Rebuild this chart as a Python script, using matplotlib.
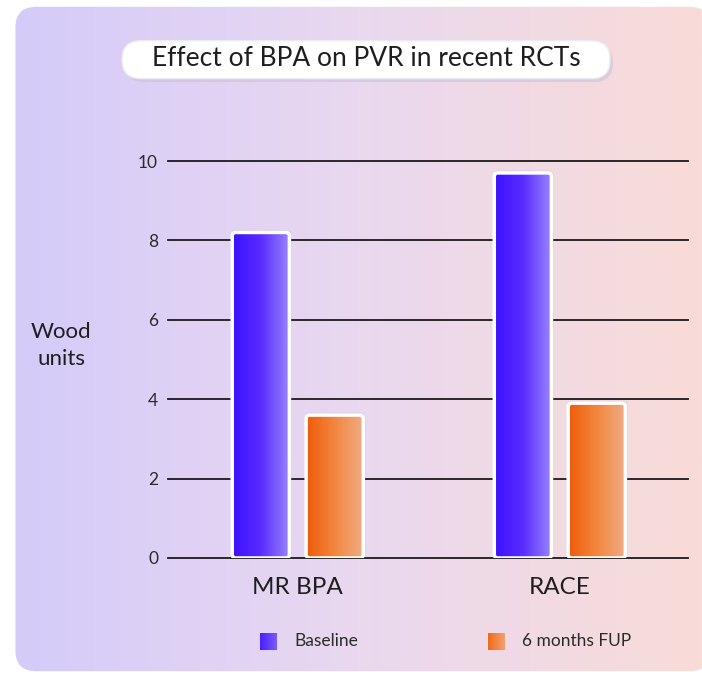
import numpy as np
import matplotlib.pyplot as plt
from matplotlib.patches import FancyBboxPatch
from matplotlib.colors import LinearSegmentedColormap

plt.rcParams['font.family'] = ['Lato', 'DejaVu Sans']

# data
groups = ['MR BPA', 'RACE']
baseline = [8.2, 9.7]
fup = [3.6, 3.9]
series_names = ['Baseline', '6 months FUP']
yticks = [0, 2, 4, 6, 8, 10]

fig = plt.figure(figsize=(7.02, 6.78), dpi=100)

# background panel with horizontal gradient
bg = fig.add_axes([0, 0, 1, 1], zorder=-10)
bg.set_xlim(0, 1)
bg.set_ylim(0, 1)
bg.axis('off')
panel_cmap = LinearSegmentedColormap.from_list('panel', ['#d4cbfa', '#e9d8ef', '#f9dcd8'])
grad = np.linspace(0, 1, 256).reshape(1, -1)
im = bg.imshow(grad, cmap=panel_cmap, extent=[0.02, 1.0, 0.005, 0.995], aspect='auto')
panel = FancyBboxPatch((0.022, 0.01), 0.99, 0.98, boxstyle='round,pad=0,rounding_size=0.03',
                       facecolor='none', edgecolor='none', transform=bg.transAxes)
bg.add_patch(panel)
im.set_clip_path(panel)

# title pill
shadow = FancyBboxPatch((0.178, 0.879), 0.695, 0.055, boxstyle='round,pad=0,rounding_size=0.027',
                        facecolor='#c9bfd6', edgecolor='none', alpha=0.55, transform=bg.transAxes)
bg.add_patch(shadow)
pill = FancyBboxPatch((0.174, 0.884), 0.695, 0.056, boxstyle='round,pad=0,rounding_size=0.027',
                      facecolor='white', edgecolor='#eeeaf2', lw=1, transform=bg.transAxes)
bg.add_patch(pill)
bg.text(0.522, 0.913, 'Effect of BPA on PVR in recent RCTs', ha='center', va='center',
        fontsize=19, color='#1e1e1e')

# y label
bg.text(0.087, 0.49, 'Wood\nunits', ha='center', va='center', fontsize=16,
        color='#1e1e1e', linespacing=1.45)

# main axes
ax = fig.add_axes([0.239, 0.177, 0.741, 0.5855])
ax.patch.set_alpha(0)
for s in ax.spines.values():
    s.set_visible(False)
ax.set_yticks(yticks)
ax.set_yticklabels([str(t) for t in yticks], fontsize=12.5, color='#2a2a2a')
ax.tick_params(axis='y', length=0, pad=7)
ax.tick_params(axis='x', length=0, pad=14)
for t in yticks:
    ax.axhline(t, color='#1a1a1a', lw=1.3, zorder=1, clip_on=False)

x = np.arange(len(groups))
w = 0.218
off = 0.141
xlim = (-0.496, 1.489)
ylim = (0, 10)
ax.set_xlim(*xlim)
ax.set_ylim(*ylim)
# data units per pixel, for rounded corners
aspect = ((ylim[1] - ylim[0]) / 397) / ((xlim[1] - xlim[0]) / 520)

blue_cmap = LinearSegmentedColormap.from_list('blue', ['#3a10ff', '#5a2cff', '#9a86ff'])
orange_cmap = LinearSegmentedColormap.from_list('orange', ['#ee5a08', '#f2873f', '#f0ad86'])

def grad_bars(xs, vals, cmap):
    bars = ax.bar(xs, vals, width=w, color='none', edgecolor='none', zorder=3)
    for b in bars:
        x0, y0, bw, bh = b.get_x(), b.get_y(), b.get_width(), b.get_height()
        halo = FancyBboxPatch((x0 - 0.004, y0), bw + 0.012, bh + 0.06,
                              boxstyle='round,pad=0,rounding_size=0.02', mutation_aspect=aspect,
                              facecolor='#b8aac8', alpha=0.3, edgecolor='none', zorder=2)
        ax.add_patch(halo)
        box = FancyBboxPatch((x0, y0), bw, bh, boxstyle='round,pad=0,rounding_size=0.014',
                             mutation_aspect=aspect, facecolor='none', edgecolor='white',
                             lw=2.5, zorder=3)
        ax.add_patch(box)
        g = ax.imshow(grad, cmap=cmap, aspect='auto', zorder=2.5,
                      extent=[x0, x0 + bw, y0, y0 + bh])
        g.set_clip_path(box)
    return bars

grad_bars(x - off, baseline, blue_cmap)
grad_bars(x + off, fup, orange_cmap)
ax.set_xlim(*xlim)
ax.set_ylim(*ylim)
ax.set_xticks(x)
ax.set_xticklabels(groups, fontsize=17.5, color='#1e1e1e')

# legend
legend_cmaps = [LinearSegmentedColormap.from_list('lb', ['#4a1cff', '#7a5cff']),
                LinearSegmentedColormap.from_list('lo', ['#f06a18', '#f3a070'])]
for xi, name, c in [(0.371, series_names[0], legend_cmaps[0]), (0.695, series_names[1], legend_cmaps[1])]:
    bg.imshow(grad, cmap=c, aspect='auto', extent=[xi, xi + 0.024, 0.042, 0.067], zorder=2)
    bg.text(xi + 0.049, 0.055, name, ha='left', va='center', fontsize=12.5, color='#2a2a2a')

fig.savefig('out.png', dpi=100)
